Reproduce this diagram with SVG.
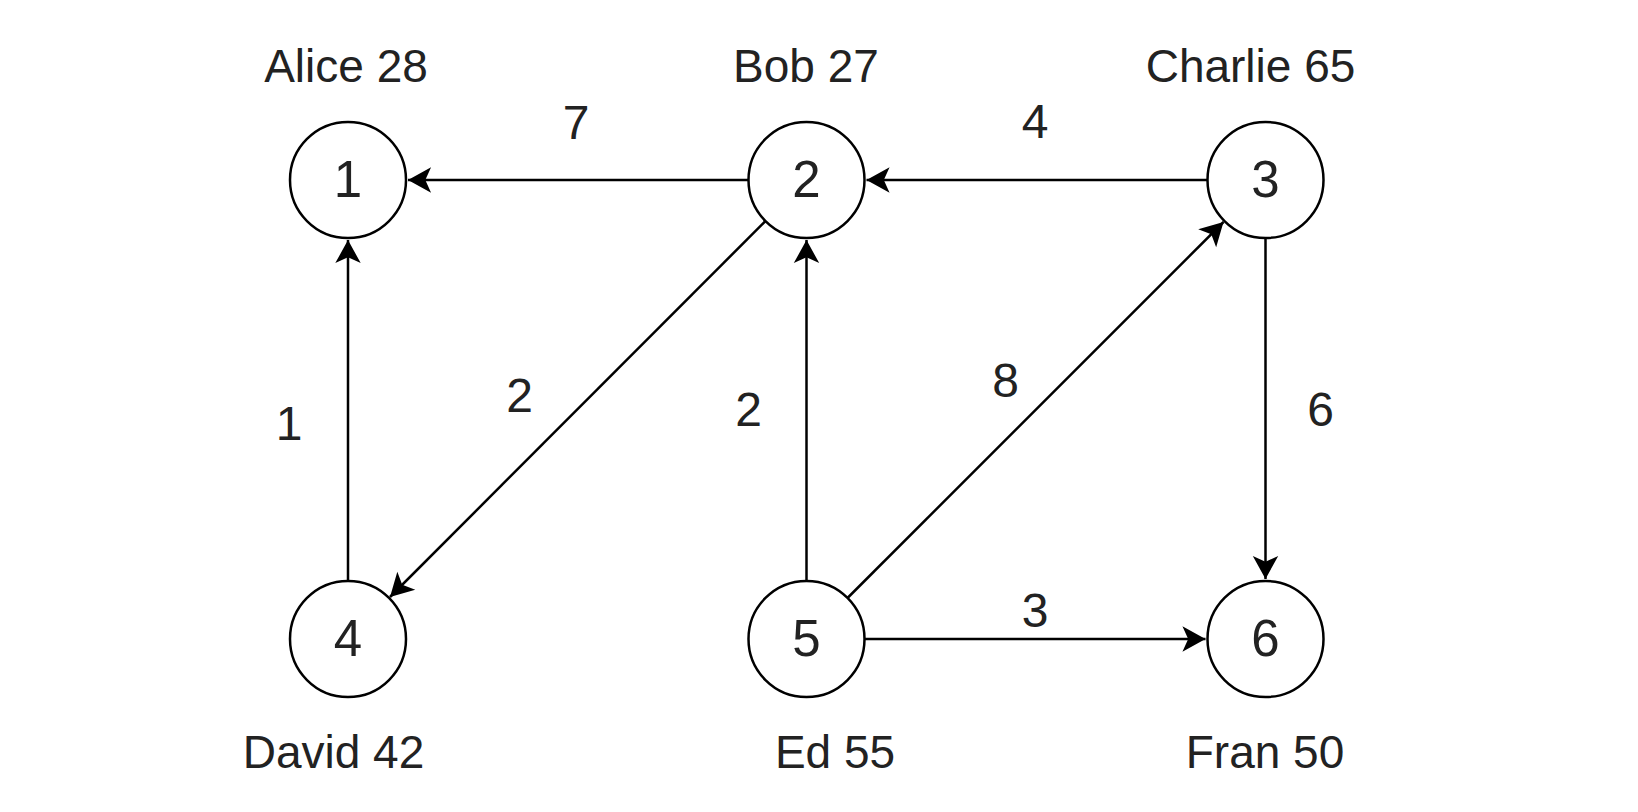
<svg xmlns="http://www.w3.org/2000/svg" width="1638" height="812" viewBox="0 0 1638 812">
<style>
.n{fill:#fff;stroke:#000;stroke-width:2.5}
.d{font-family:"Liberation Sans",Arial,sans-serif;font-size:51px;fill:#222;text-anchor:middle}
.t{font-family:"Liberation Sans",Arial,sans-serif;font-size:46px;fill:#222;text-anchor:middle}
.w{font-family:"Liberation Sans",Arial,sans-serif;font-size:48px;fill:#222;text-anchor:middle}
.e{stroke:#000;stroke-width:2.5;fill:none;marker-end:url(#a)}
</style>
<defs>
<marker id="a" markerUnits="userSpaceOnUse" markerWidth="30" markerHeight="30" viewBox="-22 -13 24 26" refX="0" refY="0" orient="auto">
<path d="M0,0 L-20,-11 L-15,0 L-20,11 Z" fill="#000"/>
</marker>
</defs>
<rect width="1638" height="812" fill="#fff"/>
<g id="edges">
<line class="e" x1="748.5" y1="180" x2="408" y2="180"/>
<line class="e" x1="1207.5" y1="180" x2="866.5" y2="180"/>
<line class="e" x1="348" y1="581" x2="348" y2="240"/>
<line class="e" x1="765.5" y1="221" x2="390" y2="597"/>
<line class="e" x1="806.5" y1="581" x2="806.5" y2="240"/>
<line class="e" x1="847.5" y1="598" x2="1223.5" y2="222"/>
<line class="e" x1="1265.5" y1="238" x2="1265.5" y2="579"/>
<line class="e" x1="864.5" y1="639" x2="1205.5" y2="639"/>
<text class="w" x="576" y="139">7</text>
<text class="w" x="1035" y="138">4</text>
<text class="w" x="289" y="440">1</text>
<text class="w" x="519.5" y="411.5">2</text>
<text class="w" x="748.5" y="426">2</text>
<text class="w" x="1005.5" y="397">8</text>
<text class="w" x="1320.5" y="426">6</text>
<text class="w" x="1035" y="627">3</text>
</g>
<g id="node1"><circle class="n" cx="348" cy="180" r="58"/><text class="d" x="348" y="197">1</text><text class="t" x="346" y="82">Alice 28</text></g>
<g id="node2"><circle class="n" cx="806.5" cy="180" r="58"/><text class="d" x="806.5" y="197">2</text><text class="t" x="806" y="82">Bob 27</text></g>
<g id="node3"><circle class="n" cx="1265.5" cy="180" r="58"/><text class="d" x="1265.5" y="197">3</text><text class="t" x="1250.5" y="82">Charlie 65</text></g>
<g id="node4"><circle class="n" cx="348" cy="639" r="58"/><text class="d" x="348" y="656">4</text><text class="t" x="333.5" y="768">David 42</text></g>
<g id="node5"><circle class="n" cx="806.5" cy="639" r="58"/><text class="d" x="806.5" y="656">5</text><text class="t" x="835" y="768">Ed 55</text></g>
<g id="node6"><circle class="n" cx="1265.5" cy="639" r="58"/><text class="d" x="1265.5" y="656">6</text><text class="t" x="1265" y="768">Fran 50</text></g>
</svg>
